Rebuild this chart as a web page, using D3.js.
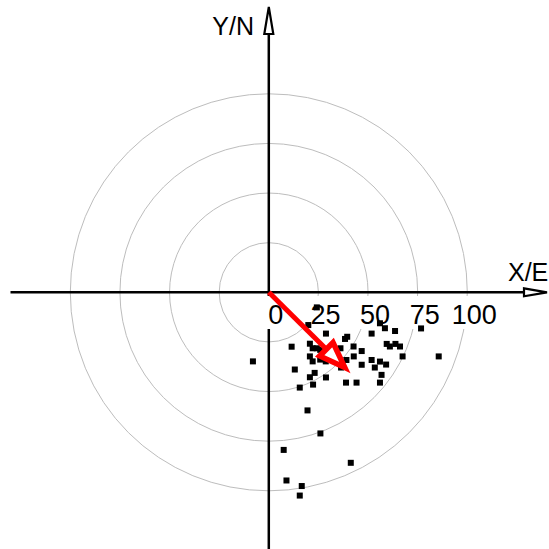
<!DOCTYPE html>
<html>
<head>
<meta charset="utf-8">
<script src="https://cdn.jsdelivr.net/npm/d3@7"></script>
<style>
  html, body { margin: 0; padding: 0; background: #fff; }
  svg { display: block; }
</style>
</head>
<body>
<svg id="chart" width="549" height="549"></svg>
<script>
// ---- data (units: East / North) ----
const ringValues = [25, 50, 75, 100];
const tickLabels = ["0", "25", "50", "75", "100"];
const tickValues = [0, 25, 50, 75, 100];
const pointsX = [24.2, 19.9, 28.8, 39.5, 38.4, 51.8, 56.0, 58.5, 63.6, 76.7,
  11.5, 20.7, 22.1, 24.2, 36.1, 42.7, 46.8, 59.4, 61.0, 63.8,
  66.1, 67.4, 85.6, -8.0, 20.7, 22.1, 25.9, 28.7, 39.1, 42.8,
  46.8, 51.8, 53.4, 56.0, 59.1, 56.8, 13.1, 23.1, 20.7, 28.8,
  22.3, 15.6, 38.9, 44.2, 56.0, 36.4, 19.5, 26.0, 7.5, 41.3,
  8.9, 16.6, 15.6, 25.9];
const pointsY = [-7.6, -16.5, -20.8, -22.4, -23.5, -20.8, -15.6, -18.1, -19.5, -18.2,
  -27.4, -25.9, -28.2, -28.2, -28.2, -27.3, -29.6, -26.0, -27.3, -26.0,
  -27.3, -32.3, -32.3, -34.8, -32.3, -34.8, -33.9, -34.8, -34.1, -32.3,
  -36.5, -34.1, -37.9, -34.9, -36.4, -41.6, -38.9, -40.6, -42.8, -42.9,
  -46.5, -48.0, -45.5, -45.5, -45.5, -37.9, -59.5, -71.1, -79.4, -85.9,
  -94.8, -97.6, -102.4, -29.0];
const meanVector = [38.3, -37.9];
const axisLabels = ["X/E", "Y/N"];

// ---- layout ----
const cx = 268.8, cy = 292.3, R = 198.5;
const svg = d3.select("#chart");
const x = d3.scaleLinear().domain([-100, 100]).range([cx - R, cx + R]);
const y = d3.scaleLinear().domain([-100, 100]).range([cy + R, cy - R]);
const r = d3.scaleLinear().domain([0, 100]).range([0, R]);
const font = "'Liberation Sans', Arial, sans-serif";

// rings
svg.append("g").selectAll("circle").data(ringValues).join("circle")
  .attr("cx", x(0)).attr("cy", y(0)).attr("r", d => r(d))
  .attr("fill", "none").attr("stroke", "#bdbdbd").attr("stroke-width", 1);

// vertical axis
svg.append("line").attr("x1", x(0)).attr("x2", x(0)).attr("y1", 34).attr("y2", 549)
  .attr("stroke", "#000").attr("stroke-width", 2.5);
svg.append("path")
  .attr("d", `M${x(0)},7 L${x(0) - 4.5},34 L${x(0) + 4.5},34 Z`)
  .attr("fill", "#fff").attr("stroke", "#000").attr("stroke-width", 2.2).attr("stroke-linejoin", "miter");

// white label band
svg.append("rect").attr("x", 264).attr("y", 296).attr("width", 236).attr("height", 33).attr("fill", "#fff");

// horizontal axis
svg.append("line").attr("x1", 10.5).attr("x2", 524).attr("y1", y(0)).attr("y2", y(0))
  .attr("stroke", "#000").attr("stroke-width", 2.5);
svg.append("path")
  .attr("d", `M547,${y(0)} L524,${y(0) - 4} L524,${y(0) + 4} Z`)
  .attr("fill", "#fff").attr("stroke", "#000").attr("stroke-width", 2.2).attr("stroke-linejoin", "miter");

// tick labels
svg.append("g").selectAll("text").data(tickValues).join("text")
  .attr("x", d => x(d) + 7).attr("y", 323.5)
  .attr("text-anchor", "middle").attr("font-family", font).attr("font-size", 27)
  .attr("fill", "#000").text((d, i) => tickLabels[i]);

// axis labels
svg.append("text").attr("x", 508).attr("y", 281).attr("font-family", font).attr("font-size", 25)
  .attr("fill", "#000").text(axisLabels[0]);
svg.append("text").attr("x", 254).attr("y", 35).attr("text-anchor", "end").attr("font-family", font).attr("font-size", 25)
  .attr("fill", "#000").text(axisLabels[1]);

// points
const pts = pointsX.map((v, i) => ({ x: v, y: pointsY[i] }));
const s = 6;
svg.append("g").selectAll("rect").data(pts).join("rect")
  .attr("x", d => x(d.x) - s / 2).attr("y", d => y(d.y) - s / 2)
  .attr("width", s).attr("height", s).attr("fill", "#000");

// mean vector arrow
const tx = x(meanVector[0]), ty = y(meanVector[1]);
const ox = x(0), oy = y(0);
const ang = Math.atan2(ty - oy, tx - ox);
const hl = 26, hw = 9.5;
const bx = tx - hl * Math.cos(ang), by = ty - hl * Math.sin(ang);
const px = -Math.sin(ang), py = Math.cos(ang);
svg.append("line").attr("x1", ox).attr("y1", oy).attr("x2", bx).attr("y2", by)
  .attr("stroke", "#ff0000").attr("stroke-width", 5);
svg.append("path")
  .attr("d", `M${tx},${ty} L${bx + px * hw},${by + py * hw} L${bx - px * hw},${by - py * hw} Z`)
  .attr("fill", "#fff").attr("stroke", "#ff0000").attr("stroke-width", 5.5).attr("stroke-linejoin", "miter");
</script>
</body>
</html>
